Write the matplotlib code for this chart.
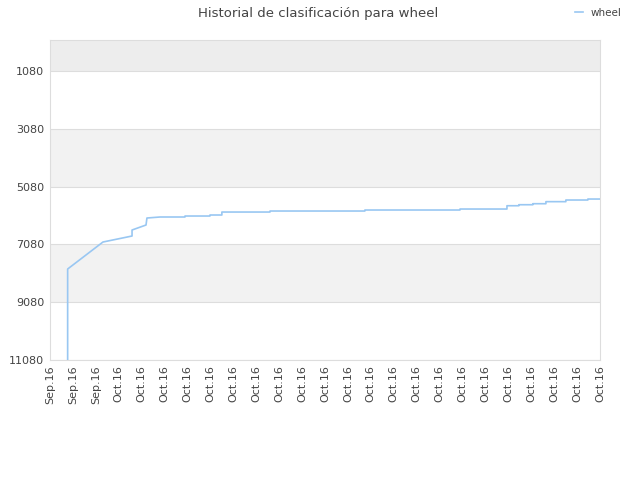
import datetime as dt
import numpy as np
import matplotlib
matplotlib.use('Agg')
import matplotlib.pyplot as plt
import matplotlib.dates as mdates

# dias desde el 28 de septiembre de 2016
dias = [0.77, 0.77, 2.31, 3.58, 3.58, 4.19, 4.23, 4.80, 5.89, 5.89, 6.98, 6.98,
        7.50, 7.50, 9.60, 9.60, 13.74, 13.74, 17.89, 17.89, 19.94, 19.94, 20.46, 20.46,
        21.07, 21.07, 21.64, 21.64, 22.51, 22.51, 23.47, 23.47, 24.0]
posicion = [11080, 7931, 6997, 6789, 6581, 6408, 6166, 6131, 6131, 6097, 6097, 6062,
            6062, 5959, 5959, 5924, 5924, 5889, 5889, 5855, 5855, 5741, 5741, 5706,
            5706, 5671, 5671, 5600, 5600, 5543, 5543, 5509, 5509]

inicio = dt.datetime(2016, 9, 28)
fechas = [inicio + dt.timedelta(days=d) for d in dias]
ticks = [inicio + dt.timedelta(days=i) for i in range(25)]
yticks = [1080, 3080, 5080, 7080, 9080, 11080]

fig = plt.figure(figsize=(6.4, 4.8), dpi=100)
ax = fig.add_axes([50/640, 1 - 360/480, 550/640, 320/480])

ymin, ymax = 5, 11080
ax.set_ylim(ymax, ymin)
ax.set_xlim(ticks[0], ticks[-1])

# franjas alternas
bordes = [ymin] + yticks
for i in range(len(bordes) - 1):
    if i % 2 == 0:
        color = '#ededed' if i == 0 else '#f2f2f2'
        ax.axhspan(bordes[i], bordes[i + 1], color=color, lw=0, zorder=0)
for y in yticks:
    ax.axhline(y, color='#dddddd', lw=0.8, zorder=1)

ax.plot(fechas, posicion, color='#99c7f2', lw=1.2, label='wheel', zorder=3)

ax.set_yticks(yticks)
ax.set_yticklabels([str(y) for y in yticks])
ax.set_xticks(ticks)
ax.xaxis.set_major_formatter(mdates.DateFormatter('%b.%y'))
plt.setp(ax.get_xticklabels(), rotation=90)
ax.tick_params(axis='both', length=0, labelsize=8, colors='#444444', pad=4)

for s in ax.spines.values():
    s.set_color('#dddddd')
    s.set_linewidth(0.8)

fig.text(0.497, 1 - 13/480, 'Historial de clasificación para wheel', ha='center', va='center',
         fontsize=9.5, color='#444444')
fig.legend(loc='center right', bbox_to_anchor=(0.985, 1 - 13/480), frameon=False,
           fontsize=7.5, handlelength=0.8, handletextpad=0.7, labelcolor='#444444')

plt.savefig('out.png', dpi=100)
